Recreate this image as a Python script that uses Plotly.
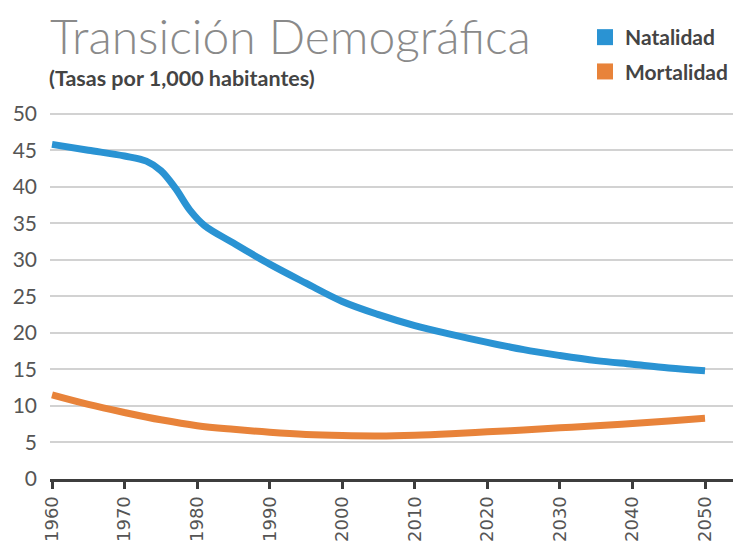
import plotly.graph_objects as go

# Data
years_nat = [1960, 1965, 1970, 1973, 1975, 1977, 1979, 1981, 1985, 1990, 1995, 2000,
             2005, 2010, 2015, 2020, 2025, 2030, 2035, 2040, 2045, 2050]
natalidad = [45.8, 45.0, 44.2, 43.5, 42.2, 39.8, 36.8, 34.7, 32.3, 29.4, 26.8, 24.3,
             22.5, 21.0, 19.8, 18.7, 17.7, 16.9, 16.2, 15.7, 15.2, 14.8]

years_mort = [1960, 1965, 1970, 1975, 1980, 1985, 1990, 1995, 2000, 2005, 2010,
              2015, 2020, 2025, 2030, 2035, 2040, 2045, 2050]
mortalidad = [11.5, 10.2, 9.1, 8.1, 7.3, 6.8, 6.4, 6.1, 5.95, 5.9, 6.0,
              6.2, 6.45, 6.7, 7.0, 7.3, 7.6, 7.95, 8.3]

x_ticks = [1960, 1970, 1980, 1990, 2000, 2010, 2020, 2030, 2040, 2050]
y_ticks = [0, 5, 10, 15, 20, 25, 30, 35, 40, 45, 50]

BLUE = "#2a93d3"
ORANGE = "#e8833a"

OFF = 8  # page body margin
W, H = 741 - OFF, 550 - OFF
ML, MR, MT, MB = 50 - OFF, 0, 110 - OFF, 71
plot_w = W - ML - MR
plot_h = H - MT - MB


def px(x_page):
    return (x_page - OFF - ML) / plot_w


def py(y_page):
    return (H - (y_page - OFF) - MB) / plot_h


fig = go.Figure()
fig.add_trace(go.Scatter(x=years_nat, y=natalidad, mode="lines",
                         line=dict(color=BLUE, width=7, shape="spline", smoothing=1.0),
                         showlegend=False))
fig.add_trace(go.Scatter(x=years_mort, y=mortalidad, mode="lines",
                         line=dict(color=ORANGE, width=7, shape="spline", smoothing=1.0),
                         showlegend=False))
# legend entries (square swatches)
fig.add_trace(go.Scatter(x=[None], y=[None], mode="markers", name="Natalidad",
                         legendgroup="a",
                         marker=dict(symbol="square", size=18, color=BLUE)))
fig.add_trace(go.Scatter(x=[None], y=[None], mode="markers", name="Mortalidad",
                         legendgroup="b",
                         marker=dict(symbol="square", size=18, color=ORANGE)))

fig.update_layout(
    width=W, height=H,
    margin=dict(l=ML, r=MR, t=MT, b=MB, autoexpand=False),
    plot_bgcolor="white", paper_bgcolor="white",
    font=dict(family="Lato", color="#555555"),
    legend=dict(x=px(585), y=py(17), xanchor="left", yanchor="top",
                font=dict(family="Lato", size=21, color="#444444", weight="bold"),
                traceorder="grouped", tracegroupgap=4,
                itemwidth=30, bgcolor="rgba(0,0,0,0)"),
    xaxis=dict(range=[1959.72, 2054.96], tickmode="array", tickvals=x_ticks,
               ticktext=[str(v) for v in x_ticks], tickangle=-90,
               showgrid=False, zeroline=False,
               showline=True, linecolor="#3d3d3d", linewidth=3,
               ticks="outside", ticklen=7, tickwidth=3, tickcolor="#3d3d3d",
               tickfont=dict(family="DejaVu Sans", size=18, color="#555555")),
    yaxis=dict(range=[0, 50.5], tickmode="array", tickvals=y_ticks,
               showgrid=True, gridcolor="#d2d2d2", gridwidth=2,
               zeroline=False, showline=False, ticks="",
               ticklabelstandoff=12,
               tickfont=dict(family="Lato", size=21, color="#555555")),
    annotations=[
        dict(text="Transición Demográfica", x=px(48), y=py(5), xref="paper", yref="paper",
             showarrow=False, xanchor="left", yanchor="top",
             font=dict(family="Lato", size=48, color="#8a8a8a", weight=300)),
        dict(text="<b>(Tasas por 1,000 habitantes)</b>", x=px(47), y=py(63),
             xref="paper", yref="paper", showarrow=False, xanchor="left", yanchor="top",
             font=dict(family="Lato", size=21.5, color="#444444")),
    ],
)

fig.write_html("out.html")
